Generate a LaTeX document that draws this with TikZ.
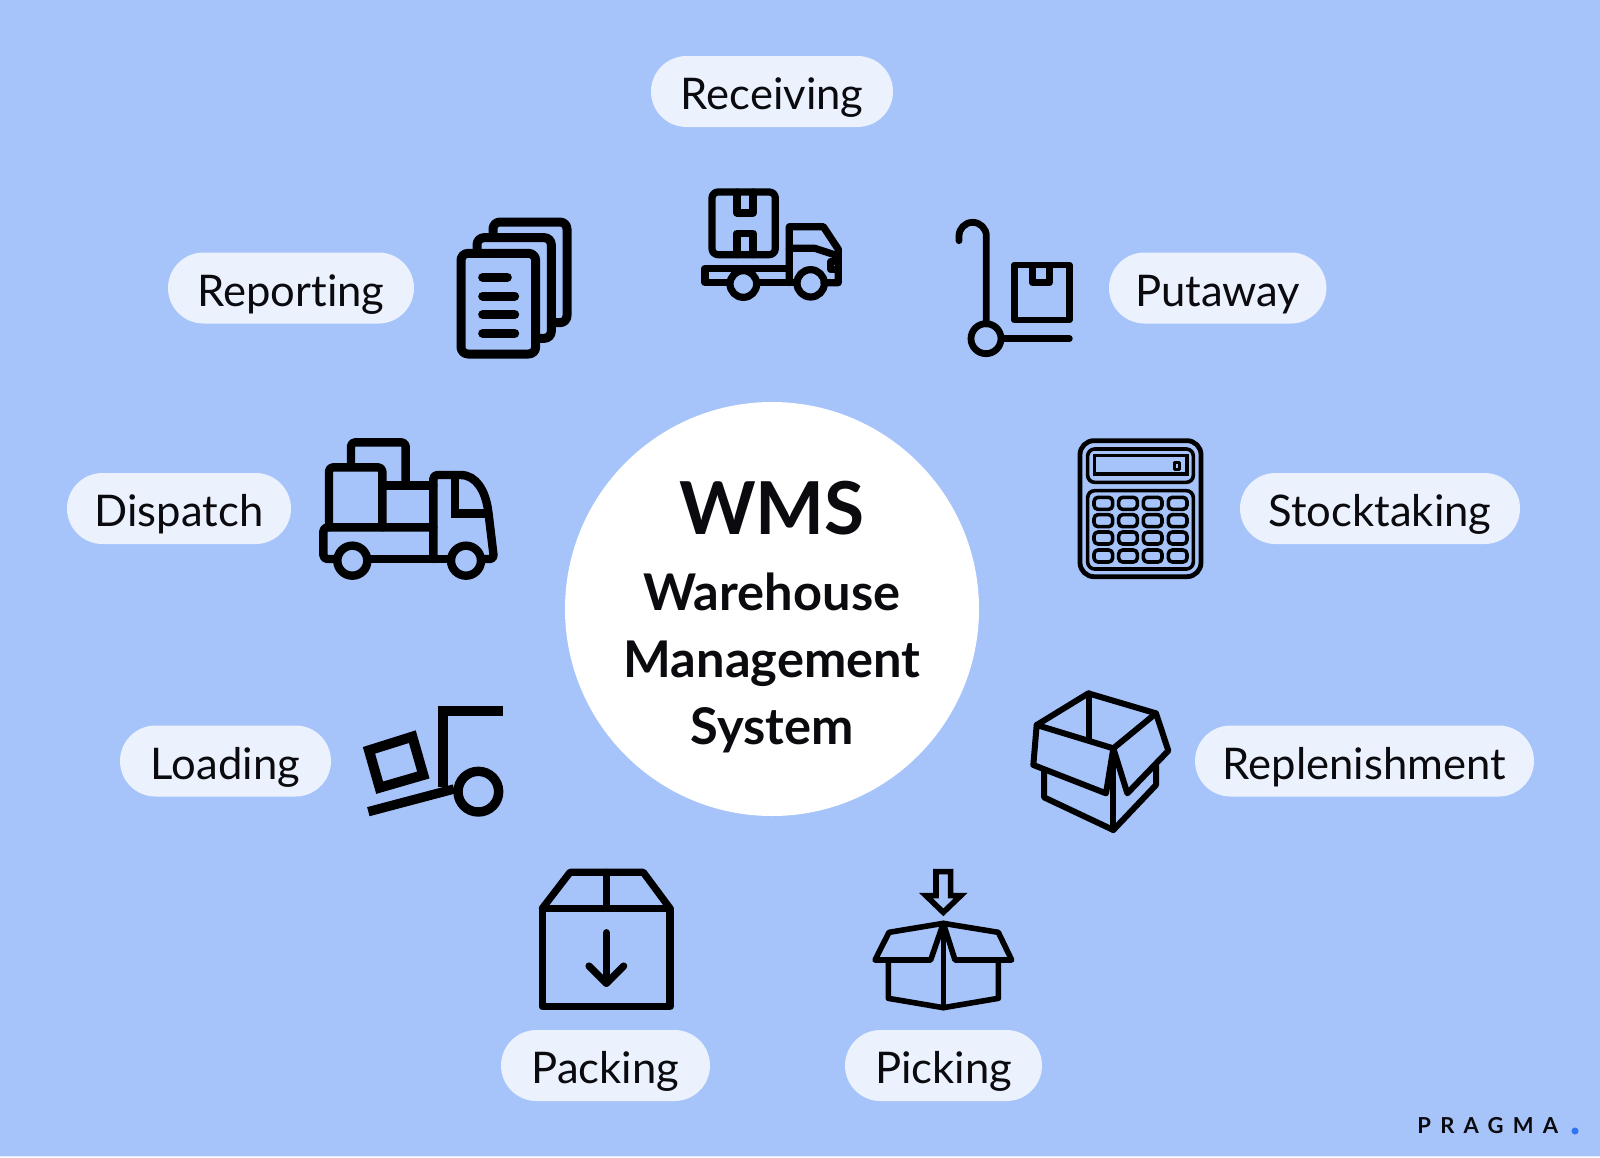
\documentclass[tikz,border=0pt]{standalone}
\usepackage{fontspec}
\setmainfont[Ligatures=NoCommon]{Lato}
\newfontfamily\logofont[LetterSpace=42]{Lato}
\usepackage{tikz}
\definecolor{skyblue}{HTML}{A6C4FA}
\definecolor{pillblue}{HTML}{EBF2FE}
\definecolor{inkblack}{HTML}{0A0A0F}
\definecolor{dotblue}{HTML}{2F74F5}
\tikzset{
    pill/.style={fill=pillblue,text=inkblack,rounded corners=17.75pt,minimum height=35.5pt,
        inner sep=0pt,text height=20pt,text depth=2pt,font=\fontsize{21.8}{26}\selectfont},
    headline/.style={text=inkblack,anchor=base,inner sep=0pt,font=\fontsize{25.3}{30}\selectfont\bfseries},
    icon/.style={draw=black,line width=#1,line join=round,line cap=round}
}

\begin{document}
\begin{tikzpicture}[x=0.5pt,y=-0.5pt]
\useasboundingbox (0,0) rectangle (1600,1157);
\fill[skyblue] (0,0) rectangle (1600,1157);
\fill[white!70!skyblue] (0,1155.5) rectangle (1600,1157);

\node[circle,fill=white,minimum size=207pt,inner sep=0pt] (hub) at (772,609) {};

\node[headline,font=\fontsize{36.5}{44}\selectfont\bfseries] (wms) at (772,534) {
    WMS
    };
\node[headline] (warehouse) at (772,610) {
    Warehouse
    };
\node[headline] (management) at (772,677.5) {
    Management
    };
\node[headline] (system) at (772,744) {
    System
    };

\node[pill,minimum width=121pt] (receiving) at (772,91.5) {
    Receiving
    };
\node[pill,minimum width=123pt] (reporting) at (291,288) {
    Reporting
    };
\node[pill,minimum width=108.7pt] (putaway) at (1217.7,288) {
    Putaway
    };
\node[pill,minimum width=112pt] (dispatch) at (179,508.5) {
    Dispatch
    };
\node[pill,minimum width=140pt] (stocktaking) at (1380,508.5) {
    Stocktaking
    };
\node[pill,minimum width=105.5pt] (loading) at (225.5,761) {
    Loading
    };
\node[pill,minimum width=169.5pt] (replenishment) at (1364.5,761) {
    Replenishment
    };
\node[pill,minimum width=104.5pt] (packing) at (605.5,1065.5) {
    Packing
    };
\node[pill,minimum width=98.5pt] (picking) at (943.5,1065.5) {
    Picking
    };

% reporting icon
\begin{scope}[shift={(440,170)},scale=1/3]
\draw[icon=4.5pt,rounded corners=3.5pt] (63,250) rectangle (287,552);
\draw[icon=4.5pt,rounded corners=3.5pt,line cap=butt] (111,237) -- (111,203) -- (334,203) -- (334,505) -- (300,505);
\draw[icon=4.5pt,rounded corners=3.5pt,line cap=butt] (159,190) -- (159,156) -- (381,156) -- (381,458) -- (347,458);
\draw[icon=4.5pt] (128,322) -- (202,322);
\foreach \liney in {378,434,490} {
    \draw[icon=4.5pt] (128,\liney) -- (224,\liney);
}
\end{scope}

% receiving icon
\begin{scope}[shift={(440,170)},scale=1/3]
\draw[icon=3.6pt,rounded corners=3pt] (816,66) rectangle (1006,254);
\draw[icon=3.6pt] (891,66) -- (891,129) -- (939,129) -- (939,66);
\draw[icon=3.6pt] (891,254) -- (891,190) -- (939,190) -- (939,254);
\draw[icon=3.6pt] (910,342) circle (40);
\draw[icon=3.6pt] (1112,340) circle (41);
\draw[icon=3.6pt] (868,338) -- (795,338) -- (795,295) -- (1048,295);
\draw[icon=3.6pt] (952,338) -- (1071,338);
\draw[icon=3.6pt] (1152,338) -- (1195,338) -- (1195,238) -- (1150,170) -- (1048,170) -- (1048,338);
\draw[icon=3.6pt] (1048,235) -- (1125,235) -- (1195,258);
\draw[icon=3.6pt] (1195,275) -- (1172,275) -- (1172,298) -- (1195,298);
\end{scope}

% putaway and stocktaking icons
\begin{scope}[shift={(930,200)},scale=1/3]
\draw[icon=3.4pt] (87,122) -- (87,108) arc[start angle=180,end angle=360,radius=41] -- (169,372);
\draw[icon=3.4pt] (168,416) circle (45);
\draw[icon=3.4pt] (214,416) -- (418,416);
\draw[icon=3.4pt,line cap=butt] (253,195) rectangle (418,360);
\draw[icon=3.4pt,line cap=butt] (307,195) -- (307,248) -- (358,248) -- (358,195);
\draw[icon=2.4pt,rounded corners=7pt] (450,722) rectangle (813,1130);
\draw[icon=1.8pt,rounded corners=3.5pt] (473,747) rectangle (790,847);
\draw[icon=1.6pt,line join=miter] (494,767) rectangle (771,822);
\draw[icon=1.4pt] (733,787) rectangle (749,808);
\draw[icon=1.8pt,rounded corners=3.5pt] (473,872) rectangle (790,1107);
\foreach \keyx in {520,594,668,743} {
    \foreach \keyy in {910,962,1014,1068} {
        \draw[icon=1.8pt,rounded corners=2pt] (\keyx-28,\keyy-18) rectangle (\keyx+28,\keyy+18);
    }
}
\end{scope}

% dispatch and loading icons
\begin{scope}[shift={(310,425)},scale=1/3]
\draw[icon=4.2pt,rounded corners=2pt] (57,307) -- (57,127) -- (217,127) -- (217,307);
\draw[icon=4.2pt,rounded corners=2pt] (123,120) -- (123,52) -- (287,52) -- (287,182);
\draw[icon=4.2pt] (217,182) -- (370,182);
\draw[icon=4.2pt,rounded corners=2pt] (370,402) -- (370,150) -- (440,150) .. controls (500,150) and (525,200) .. (535,260) -- (552,402) -- (516,402);
\draw[icon=4.2pt,line join=miter] (435,150) -- (435,265) -- (535,265);
\draw[icon=4.2pt,rounded corners=2pt] (370,307) -- (40,307) -- (40,402) -- (80,402);
\draw[icon=4.2pt] (174,402) -- (420,402);
\draw[icon=4.2pt] (127,407) circle (45);
\draw[icon=4.2pt] (468,407) circle (45);

\draw[icon=4.7pt,line cap=butt,line join=miter] (399,1085) -- (399,858) -- (580,858);
\draw[icon=4.7pt,line cap=butt] (175,1160) -- (432,1092);
\draw[icon=4.7pt] (505,1100) circle (61);
\draw[icon=5pt,line join=miter] (177,976) -- (307,935) -- (340,1050) -- (209,1088) -- cycle;
\end{scope}

% packing and picking icons
\begin{scope}[shift={(520,855)},scale=1/3]
\draw[icon=3.6pt] (67,160) rectangle (450,455);
\draw[icon=3.6pt] (67,160) -- (150,52) -- (370,52) -- (450,160);
\draw[icon=3.6pt] (259,52) -- (259,160);
\draw[icon=3.6pt] (259,233) -- (259,385);
\draw[icon=3.6pt] (207,333) -- (259,385) -- (311,333);

\draw[icon=2.8pt,line join=miter] (1248,50) -- (1292,50) -- (1292,122) -- (1322,122) -- (1270,172) -- (1218,122) -- (1248,122) -- cycle;
\draw[icon=2.8pt] (1232,315) -- (1065,315) -- (1107,232) -- (1270,205) -- (1435,232) -- (1475,315) -- (1305,315) -- (1270,205) -- cycle;
\draw[icon=2.8pt] (1270,205) -- (1270,458);
\draw[icon=2.8pt] (1105,315) -- (1105,430) -- (1270,458) -- (1435,430) -- (1435,315);
\end{scope}

% replenishment icon
\begin{scope}[shift={(1020,680)},scale=1/3]
\draw[icon=3pt] (50,135) -- (205,40) -- (408,100) -- (280,205) -- cycle;
\draw[icon=3pt] (207,40) -- (207,178);
\draw[icon=3pt] (50,135) -- (40,255) -- (258,340) -- (280,205);
\draw[icon=3pt] (408,100) -- (445,212) -- (322,340) -- (280,205);
\draw[icon=3pt] (72,270) -- (72,352) -- (280,450) -- (408,315) -- (408,255);
\draw[icon=3pt] (280,205) -- (280,450);
\end{scope}

\node[anchor=base west,inner sep=0pt,text=inkblack,font=\logofont\fontsize{11}{13}\selectfont\bfseries] (logo) at (1417,1133) {
    PRAGMA
    };
\fill[dotblue] (1575,1131) circle (3.5);

\end{tikzpicture}
\end{document}
